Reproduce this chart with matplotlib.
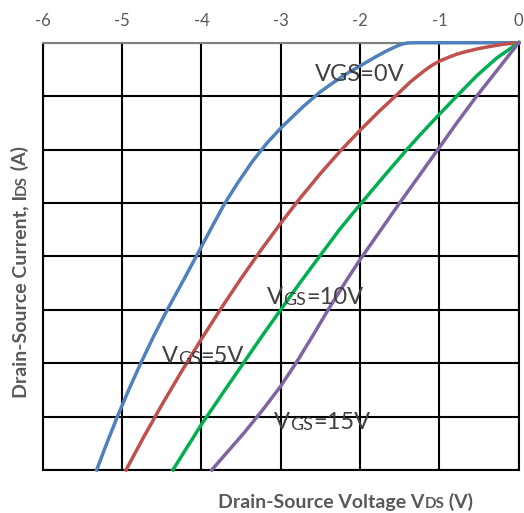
import matplotlib
matplotlib.use('Agg')
import matplotlib.pyplot as plt

plt.rcParams['font.family'] = ['Lato', 'DejaVu Sans']

# data (x: V_DS in volts, y: I_DS in grid divisions)
vds_0 = [0, -1.0, -1.3, -1.4, -1.48, -1.56, -1.66, -1.81, -1.96, -2.17, -2.34, -2.51, -2.72,
         -3.0, -3.18, -3.36, -3.54, -3.71, -3.86, -4.0, -4.22, -4.43, -4.6, -4.77,
         -4.91, -5.05, -5.19, -5.32]
ids_0 = [0, 0, 0, -0.005, -0.03, -0.08, -0.15, -0.27, -0.40, -0.58, -0.75, -0.93, -1.20,
         -1.60, -1.89, -2.23, -2.62, -3.02, -3.43, -3.82, -4.43, -5.0, -5.49, -6.02,
         -6.48, -6.97, -7.49, -8.0]

vds_5 = [0, -0.2, -0.36, -0.52, -0.66, -0.78, -0.87, -1.0, -1.1, -1.2, -1.37, -1.54,
         -1.77, -2.0, -2.25, -2.5, -2.75, -3.0, -3.25, -3.5, -3.75, -4.0, -4.25, -4.5,
         -4.73, -4.95]
ids_5 = [0, -0.03, -0.07, -0.115, -0.165, -0.215, -0.265, -0.345, -0.43, -0.535, -0.74,
         -0.98, -1.30, -1.64, -2.03, -2.45, -2.90, -3.38, -3.885, -4.415, -4.97, -5.55,
         -6.155, -6.785, -7.39, -8.0]

vds_10 = [0, -0.28, -0.53, -0.78, -1.0, -1.24, -1.41, -1.71, -2.0, -2.26, -2.51, -2.76,
          -3.0, -3.23, -3.48, -3.73, -4.0, -4.36]
ids_10 = [0, -0.29, -0.62, -1.0, -1.34, -1.72, -2.0, -2.52, -3.03, -3.5, -4.0, -4.5,
          -5.0, -5.48, -6.02, -6.56, -7.15, -8.0]

vds_15 = [0, -0.28, -0.53, -0.78, -1.0, -1.24, -1.52, -1.67, -2.0, -2.18, -2.39, -2.59,
          -2.80, -3.0, -3.23, -3.46, -3.87]
ids_15 = [0, -0.53, -1.0, -1.50, -1.96, -2.46, -3.04, -3.36, -4.06, -4.47, -4.97, -5.47,
          -5.98, -6.43, -6.88, -7.30, -8.0]

x_ticks = [-6, -5, -4, -3, -2, -1, 0]
y_grid = [-8, -7, -6, -5, -4, -3, -2, -1, 0]

fig = plt.figure(figsize=(5.24, 5.13), dpi=100)
ax = fig.add_axes([0.0815, 0.0838, 0.9085, 0.833])

ax.plot(vds_0, ids_0, color='#4F81BD', lw=2.5, clip_on=False, zorder=3)
ax.plot(vds_5, ids_5, color='#C0504D', lw=2.5, clip_on=False, zorder=3)
ax.plot(vds_10, ids_10, color='#00B050', lw=2.5, clip_on=False, zorder=3)
ax.plot(vds_15, ids_15, color='#8064A2', lw=2.5, clip_on=False, zorder=3)

ax.set_xlim(-6, 0)
ax.set_ylim(-8, 0)
ax.set_xticks(x_ticks)
ax.set_xticklabels([str(t) for t in x_ticks])
ax.set_yticks(y_grid)
ax.set_yticklabels([])
ax.xaxis.tick_top()
ax.tick_params(axis='x', length=0, pad=10, labelsize=12, labelcolor='#595959')
ax.tick_params(axis='y', length=0)
ax.grid(True, color='black', lw=1.5)
for s in ax.spines.values():
    s.set_color('black')
    s.set_linewidth(1.5)
ax.spines['top'].set_color('#7f7f7f')


def piece_text(x, y, parts, color, transform=None, rotation=0, weight='normal'):
    # parts: list of (text, fontsize) drawn one after another on a common line
    tr = transform if transform is not None else ax.transData
    txt, fs = parts[0]
    if rotation == 0:
        prev = fig.text(x, y, txt, transform=tr, fontsize=fs, color=color,
                        ha='left', va='bottom', weight=weight)
    else:
        prev = fig.text(x, y, txt, transform=tr, fontsize=fs, color=color,
                        ha='right', va='bottom', rotation=90, weight=weight)
    for txt, fs in parts[1:]:
        if rotation == 0:
            prev = ax.annotate(txt, xy=(1, 0), xycoords=prev, fontsize=fs, color=color,
                               ha='left', va='bottom', weight=weight, annotation_clip=False)
        else:
            prev = ax.annotate(txt, xy=(1, 1), xycoords=prev, fontsize=fs, color=color,
                               ha='right', va='bottom', rotation=90, weight=weight,
                               annotation_clip=False)
    return prev


lab_col = '#404040'
piece_text(-2.57, -0.80, [('VGS=0V', 17)], lab_col)
piece_text(-3.17, -4.97, [('V', 17), ('GS', 13), ('=10V', 17)], lab_col)
piece_text(-4.5, -6.07, [('V', 17), ('GS', 13), ('=5V', 17)], lab_col)
piece_text(-3.08, -7.3, [('V', 17), ('GS', 13), ('=15V', 17)], lab_col)

axis_col = '#595959'
piece_text(218 / 524, 1 - 511 / 513, [('Drain-Source Voltage V', 14), ('DS', 11), (' (V)', 14)],
           axis_col, transform=fig.transFigure, weight='bold')
piece_text(29 / 524, 1 - 398 / 513, [('Drain-Source Current, I', 14), ('DS', 11), (' (A)', 14)],
           axis_col, transform=fig.transFigure, rotation=90, weight='bold')

fig.savefig('out.png', dpi=100)
